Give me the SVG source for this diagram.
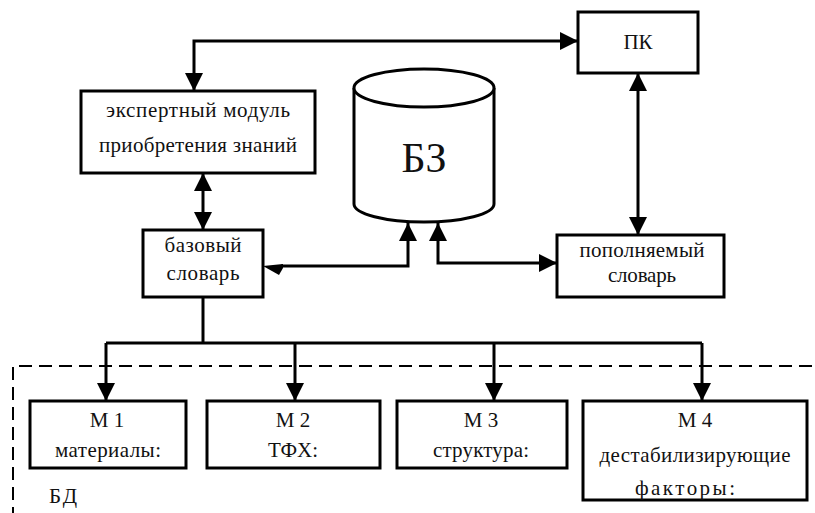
<svg xmlns="http://www.w3.org/2000/svg" width="815" height="513" viewBox="0 0 815 513">
  <defs>
    <marker id="arrow" markerUnits="userSpaceOnUse" markerWidth="18" markerHeight="18" viewBox="0 0 18 18" refX="18" refY="9" orient="auto-start-reverse">
      <path d="M0,0 L18,9 L0,18 Z" fill="#000"/>
    </marker>
    <style>
      .box { fill: #fff; stroke: #000; stroke-width: 3; }
      .line { fill: none; stroke: #000; stroke-width: 3; }
      .both { marker-start: url(#arrow); marker-end: url(#arrow); }
      .end { marker-end: url(#arrow); }
      .dash { fill: none; stroke: #000; stroke-width: 2; stroke-dasharray: 13 7; }
      .lbl { font-family: "Liberation Serif", "DejaVu Serif", serif; font-size: 21px; fill: #111; text-anchor: middle; }
    </style>
  </defs>

  <rect width="815" height="513" fill="#fff"/>

  <!-- database boundary -->
  <path class="dash" d="M13,520 L13,366 L820,366"/>
  <text class="lbl" x="49" y="503" style="text-anchor:start" textLength="28" lengthAdjust="spacing">БД</text>

  <g id="connectors">
    <path class="line both" d="M194,91 L194,41 L578,41"/>
    <path class="line both" d="M638,73 L638,235"/>
    <path class="line both" d="M203,173 L203,230"/>
    <path class="line" d="M408,223 L408,266 L281,266" marker-start="url(#arrow)"/>
    <polygon points="263,266 283,264 283,268 279,275" fill="#000"/>
    <path class="line both" d="M438,223 L438,263 L557,263"/>
    <path class="line" d="M203,297 L203,343"/>
    <path class="line" d="M106,343 L702,343"/>
    <path class="line end" d="M106,343 L106,401"/>
    <path class="line end" d="M295,343 L295,401"/>
    <path class="line end" d="M494,343 L494,401"/>
    <path class="line end" d="M702,343 L702,401"/>
  </g>

  <g id="pk">
    <rect class="box" x="578" y="12" width="120" height="61"/>
    <text class="lbl" x="638" y="49" textLength="29" lengthAdjust="spacing">ПК</text>
  </g>

  <g id="expert">
    <rect class="box" x="81" y="91" width="234" height="82"/>
    <text class="lbl" x="198" y="117" textLength="184" lengthAdjust="spacing">экспертный модуль</text>
    <text class="lbl" x="198" y="152" textLength="198" lengthAdjust="spacing">приобретения знаний</text>
  </g>

  <g id="kb">
    <path class="box" d="M354,88 L354,204 A70,18 0 0 0 494,204 L494,88"/>
    <ellipse class="box" cx="424" cy="88" rx="70" ry="19"/>
    <text class="lbl" x="424" y="172" style="font-size:42px" textLength="45" lengthAdjust="spacing">БЗ</text>
  </g>

  <g id="base-dict">
    <rect class="box" x="143" y="230" width="120" height="67"/>
    <text class="lbl" x="203" y="252" textLength="77" lengthAdjust="spacing">базовый</text>
    <text class="lbl" x="203" y="280" textLength="73" lengthAdjust="spacing">словарь</text>
  </g>

  <g id="ext-dict">
    <rect class="box" x="557" y="235" width="167" height="62"/>
    <text class="lbl" x="642" y="257" textLength="125" lengthAdjust="spacing">пополняемый</text>
    <text class="lbl" x="642" y="282" textLength="68" lengthAdjust="spacing">словарь</text>
  </g>

  <g id="m1">
    <rect class="box" x="30" y="401" width="156" height="67"/>
    <text class="lbl" x="107" y="427">М 1</text>
    <text class="lbl" x="108" y="457" textLength="106" lengthAdjust="spacing">материалы:</text>
  </g>

  <g id="m2">
    <rect class="box" x="207" y="401" width="173" height="67"/>
    <text class="lbl" x="293" y="427">М 2</text>
    <text class="lbl" x="293" y="457" textLength="50" lengthAdjust="spacing">ТФХ:</text>
  </g>

  <g id="m3">
    <rect class="box" x="397" y="401" width="170" height="67"/>
    <text class="lbl" x="481" y="427">М 3</text>
    <text class="lbl" x="481" y="457" textLength="96" lengthAdjust="spacing">структура:</text>
  </g>

  <g id="m4">
    <rect class="box" x="583" y="401" width="224" height="99"/>
    <text class="lbl" x="695" y="427">М 4</text>
    <text class="lbl" x="695" y="462" textLength="191" lengthAdjust="spacing">дестабилизирующие</text>
    <text class="lbl" x="685" y="495" textLength="100" lengthAdjust="spacing">факторы:</text>
  </g>
</svg>
